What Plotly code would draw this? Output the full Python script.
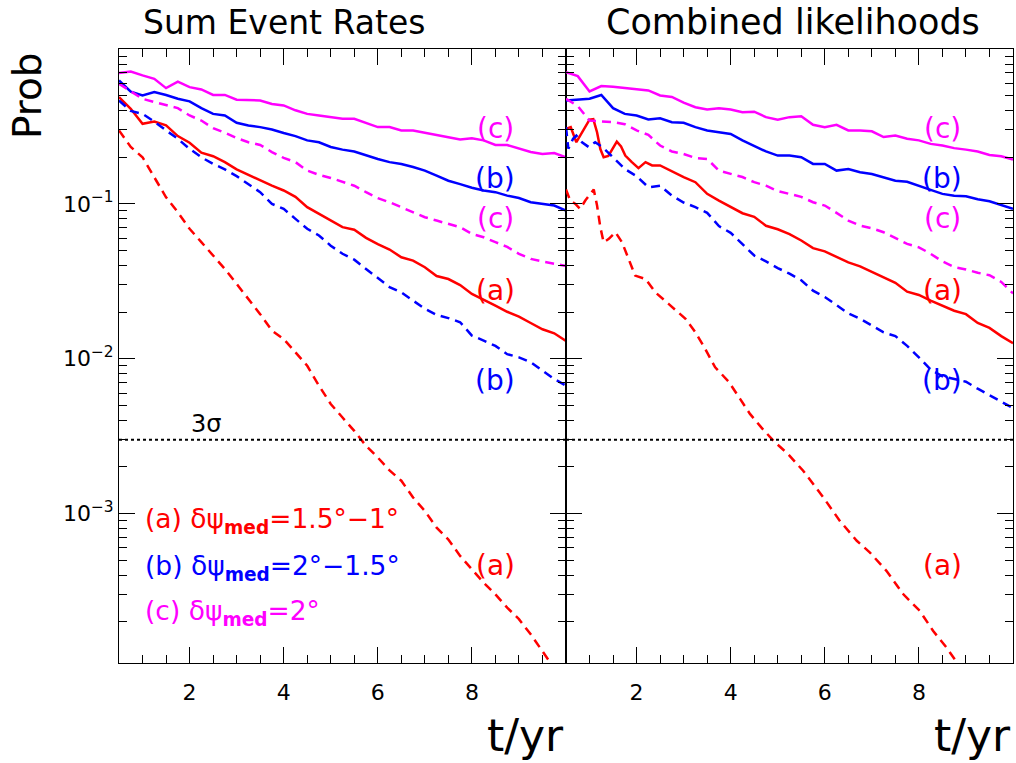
import math
import plotly.graph_objects as go

# ---------------- data ----------------
T = [0.5, 0.75, 1.0, 1.25, 1.5, 1.75, 2.0, 2.25, 2.5, 2.75,
     3.0, 3.25, 3.5, 3.75, 4.0, 4.25, 4.5, 4.75, 5.0, 5.25,
     5.5, 5.75, 6.0, 6.25, 6.5, 6.75, 7.0, 7.25, 7.5, 7.75,
     8.0, 8.25, 8.5, 8.75, 9.0, 9.25, 9.5, 9.75, 10.0]

# Left panel: "Sum Event Rates"
sum_c_solid = [0.70, 0.716, 0.675, 0.642, 0.559, 0.615, 0.567, 0.548, 0.505, 0.505,
               0.47, 0.47, 0.465, 0.441, 0.432, 0.402, 0.381, 0.372, 0.363, 0.354,
               0.354, 0.334, 0.313, 0.313, 0.298, 0.298, 0.287, 0.278, 0.269, 0.26,
               0.265, 0.257, 0.24, 0.24, 0.227, 0.216, 0.21, 0.213, 0.2]
sum_b_solid = [0.626, 0.531, 0.501, 0.527, 0.505, 0.477, 0.459, 0.415, 0.381, 0.372,
               0.334, 0.321, 0.313, 0.302, 0.287, 0.274, 0.257, 0.25, 0.233, 0.224,
               0.218, 0.205, 0.195, 0.186, 0.181, 0.173, 0.164, 0.152, 0.141, 0.134,
               0.127, 0.122, 0.119, 0.113, 0.109, 0.1024, 0.1, 0.0975, 0.0905]
sum_a_solid = [0.489, 0.411, 0.329, 0.34, 0.321, 0.274, 0.248, 0.214, 0.203, 0.186,
               0.167, 0.154, 0.141, 0.131, 0.122, 0.111, 0.0952, 0.086, 0.078, 0.0707,
               0.068, 0.0603, 0.055, 0.0507, 0.0452, 0.043, 0.039, 0.0342, 0.0327, 0.0299,
               0.0262, 0.0241, 0.022, 0.0201, 0.0187, 0.017, 0.0155, 0.0146, 0.013]
sum_c_dash = [0.596, 0.531, 0.477, 0.454, 0.436, 0.415, 0.372, 0.345, 0.308, 0.288,
              0.266, 0.25, 0.24, 0.216, 0.198, 0.186, 0.164, 0.154, 0.147, 0.138,
              0.131, 0.119, 0.109, 0.1024, 0.0952, 0.0883, 0.082, 0.078, 0.0742, 0.0706,
              0.064, 0.0609, 0.0566, 0.0527, 0.0476, 0.0441, 0.0425, 0.0411, 0.0397]
sum_b_dash = [0.465, 0.398, 0.381, 0.34, 0.298, 0.263, 0.2266, 0.2, 0.181, 0.167,
              0.151, 0.134, 0.119, 0.1, 0.0928, 0.08, 0.069, 0.0625, 0.0537, 0.0476,
              0.0436, 0.038, 0.033, 0.029, 0.0268, 0.0237, 0.021, 0.0192, 0.0183, 0.0172,
              0.0141, 0.0131, 0.0121, 0.0107, 0.0102, 0.0095, 0.0084, 0.0074, 0.0067]
sum_a_dash = [0.298, 0.233, 0.2, 0.149, 0.1103, 0.0883, 0.069, 0.0566, 0.0464, 0.038,
              0.0304, 0.0243, 0.0194, 0.0152, 0.0134, 0.011, 0.009, 0.0067, 0.0051, 0.00417,
              0.00342, 0.00274, 0.0023, 0.0019, 0.00163, 0.00127, 0.00104, 0.00081, 0.00068, 0.000533,
              0.000437, 0.000358, 0.000301, 0.000247, 0.000208, 0.000166, 0.000129, 0.0001, 0.00008]

# Right panel: "Combined likelihoods"
comb_c_solid = [0.709, 0.668, 0.532, 0.576, 0.57, 0.559, 0.553, 0.54, 0.501, 0.49,
                0.45, 0.421, 0.407, 0.415, 0.407, 0.391, 0.394, 0.363, 0.35, 0.363,
                0.368, 0.324, 0.313, 0.324, 0.298, 0.298, 0.294, 0.27, 0.276, 0.263,
                0.257, 0.244, 0.238, 0.229, 0.224, 0.218, 0.207, 0.203, 0.193]
comb_b_solid = [0.465, 0.47, 0.477, 0.505, 0.415, 0.381, 0.372, 0.351, 0.357, 0.337,
                0.334, 0.313, 0.298, 0.29, 0.283, 0.257, 0.238, 0.218, 0.205, 0.205,
                0.2, 0.181, 0.181, 0.164, 0.168, 0.16, 0.156, 0.149, 0.141, 0.139,
                0.13, 0.123, 0.116, 0.113, 0.112, 0.107, 0.104, 0.0985, 0.093]
comb_a_solid_t = [0.5, 0.6, 0.72, 0.85, 1.0, 1.08, 1.16, 1.23, 1.3, 1.4,
                  1.5, 1.58, 1.67, 1.76, 1.9, 2.04, 2.19, 2.33, 2.5, 2.75,
                  3.0, 3.25, 3.5, 3.75, 4.0, 4.25, 4.5, 4.75, 5.0, 5.25,
                  5.5, 5.75, 6.0, 6.25, 6.5, 6.75, 7.0, 7.25, 7.5, 7.75,
                  8.0, 8.25, 8.5, 8.75, 9.0, 9.25, 9.5, 9.75, 10.0]
comb_a_solid = [0.305, 0.313, 0.25, 0.29, 0.35, 0.352, 0.29, 0.226, 0.2, 0.204,
                0.232, 0.252, 0.235, 0.205, 0.186, 0.17, 0.186, 0.177, 0.177, 0.162,
                0.149, 0.138, 0.116, 0.105, 0.0955, 0.087, 0.0825, 0.0722, 0.0685, 0.0638,
                0.058, 0.0518, 0.0493, 0.0452, 0.0419, 0.0395, 0.0365, 0.0336, 0.0309, 0.0271,
                0.0258, 0.0237, 0.022, 0.0204, 0.0194, 0.017, 0.0158, 0.014, 0.0126]
comb_c_dash = [0.477, 0.428, 0.345, 0.34, 0.337, 0.327, 0.298, 0.279, 0.238, 0.218,
               0.21, 0.198, 0.195, 0.164, 0.156, 0.149, 0.138, 0.131, 0.121, 0.116,
               0.111, 0.1024, 0.0975, 0.0875, 0.078, 0.0724, 0.0696, 0.0656, 0.06, 0.0551,
               0.0524, 0.0476, 0.0425, 0.0391, 0.0377, 0.0359, 0.0346, 0.0313, 0.0264]
comb_b_dash_t = [0.5, 0.55, 0.65, 0.72, 0.84, 0.98, 1.12, 1.27, 1.5, 1.75,
                 2.0, 2.25, 2.5, 2.75, 3.0, 3.25, 3.5, 3.75, 4.0, 4.25,
                 4.5, 4.75, 5.0, 5.25, 5.5, 5.75, 6.0, 6.25, 6.5, 6.75,
                 7.0, 7.25, 7.5, 7.75, 8.0, 8.25, 8.5, 8.75, 9.0, 9.25,
                 9.5, 9.75, 10.0]
comb_b_dash = [0.313, 0.227, 0.263, 0.276, 0.25, 0.233, 0.25, 0.233, 0.2, 0.168,
               0.151, 0.128, 0.131, 0.113, 0.102, 0.0952, 0.0875, 0.0718, 0.065, 0.0551,
               0.0464, 0.0425, 0.0385, 0.0354, 0.0321, 0.0275, 0.025, 0.0222, 0.0196, 0.0181,
               0.0163, 0.0148, 0.014, 0.0121, 0.0102, 0.0085, 0.0077, 0.0074, 0.0071, 0.0064,
               0.0058, 0.0053, 0.0048]
comb_a_dash_t = [0.5, 0.59, 0.70, 0.80, 0.91, 1.02, 1.09, 1.16, 1.23, 1.30,
                 1.41, 1.55, 1.69, 1.83, 1.97, 2.19, 2.40, 2.68, 2.89, 3.04,
                 3.25, 3.46, 3.67, 3.96, 4.2, 4.41, 4.65, 4.91, 5.22, 5.54,
                 5.97, 6.32, 6.68, 6.96, 7.31, 7.67, 8.02, 8.30, 8.59, 8.84, 9.0]
comb_a_dash = [0.1237, 0.105, 0.1, 0.0928, 0.105, 0.116, 0.1237, 0.0975, 0.0706, 0.0565,
               0.0594, 0.0656, 0.0565, 0.0441, 0.0344, 0.0327, 0.0268, 0.0226, 0.0199, 0.0181,
               0.0148, 0.01155, 0.00879, 0.0071, 0.0055, 0.0044, 0.0036, 0.00295, 0.00242, 0.00189,
               0.00127, 0.000897, 0.000667, 0.00056, 0.000427, 0.000301, 0.000235, 0.000175, 0.000136,
               0.000106, 0.00009]

SIGMA3 = 0.003
X_RANGE = [0.5, 10.0]
Y_LOG_RANGE = [-3.965, 0.0]

PANEL_TITLES = ["Sum Event Rates", "Combined likelihoods"]
Y_TICKS = [1e-3, 1e-2, 1e-1]
Y_TICKTEXT = ["10<sup>\u22123</sup>", "10<sup>\u22122</sup>", "10<sup>\u22121</sup>"]
X_TICKS = [2, 4, 6, 8]

LEGEND_TEXT = ["(a) \u03b4\u03c8<sub><b>med</b></sub>=1.5\u00b0\u22121\u00b0",
               "(b) \u03b4\u03c8<sub><b>med</b></sub>=2\u00b0\u22121.5\u00b0",
               "(c) \u03b4\u03c8<sub><b>med</b></sub>=2\u00b0"]
LEGEND_P = [0.000897, 0.000446, 0.000228]
CURVE_LABELS = ["(c)", "(b)", "(c)", "(a)", "(b)", "(a)"]
CURVE_LABEL_P = [0.307, 0.146, 0.0804, 0.0275, 0.00721, 0.000459]

# ---------------- styling ----------------
RED, BLUE, MAG = "#ff0000", "#0000ff", "#ff00ff"
FONT = "DejaVu Sans"
LW = 2.5
DASH = "9px,6px"
label_colors = [MAG, BLUE, MAG, RED, BLUE, RED]

fig = go.Figure()

def add(x, y, color, dash, xa, ya):
    fig.add_trace(go.Scatter(x=x, y=y, mode="lines", xaxis=xa, yaxis=ya,
                             line=dict(color=color, width=LW, dash=dash),
                             showlegend=False, hoverinfo="skip"))

# left panel
add(T, sum_c_solid, MAG, "solid", "x", "y")
add(T, sum_b_solid, BLUE, "solid", "x", "y")
add(T, sum_a_solid, RED, "solid", "x", "y")
add(T, sum_c_dash, MAG, DASH, "x", "y")
add(T, sum_b_dash, BLUE, DASH, "x", "y")
add(T, sum_a_dash, RED, DASH, "x", "y")
# right panel
add(T, comb_c_solid, MAG, "solid", "x2", "y2")
add(T, comb_b_solid, BLUE, "solid", "x2", "y2")
add(comb_a_solid_t, comb_a_solid, RED, "solid", "x2", "y2")
add(T, comb_c_dash, MAG, DASH, "x2", "y2")
add(comb_b_dash_t, comb_b_dash, BLUE, DASH, "x2", "y2")
add(comb_a_dash_t, comb_a_dash, RED, DASH, "x2", "y2")
# 3 sigma lines
for xa, ya in (("x", "y"), ("x2", "y2")):
    fig.add_trace(go.Scatter(x=X_RANGE, y=[SIGMA3, SIGMA3], mode="lines", xaxis=xa, yaxis=ya,
                             line=dict(color="black", width=2, dash="dot"),
                             showlegend=False, hoverinfo="skip"))

y_minor = [k * 10.0 ** e for e in range(-4, 0) for k in range(2, 10)]
x_minor = [v / 2 for v in range(1, 21)]

xcommon = dict(range=X_RANGE, tickvals=X_TICKS, ticktext=[str(v) for v in X_TICKS],
               ticks="inside", ticklen=16, tickwidth=1, tickcolor="black",
               minor=dict(tickvals=x_minor, ticks="inside", ticklen=8, tickwidth=1, tickcolor="black"),
               showline=True, linecolor="black", linewidth=1, mirror="allticks",
               showgrid=False, zeroline=False, ticklabelstandoff=10,
               tickfont=dict(family=FONT, size=22, color="black"))
ycommon = dict(type="log", range=Y_LOG_RANGE, tickvals=Y_TICKS, ticktext=Y_TICKTEXT,
               ticks="inside", ticklen=16, tickwidth=1, tickcolor="black",
               minor=dict(tickvals=y_minor, ticks="inside", ticklen=8, tickwidth=1, tickcolor="black"),
               showline=True, linecolor="black", linewidth=1, mirror="allticks",
               showgrid=False, zeroline=False, ticklabelstandoff=0,
               tickfont=dict(family=FONT, size=22, color="black"))

fig.update_layout(
    width=1016, height=763,
    margin=dict(l=119, r=3, t=49, b=100),
    paper_bgcolor="white", plot_bgcolor="white",
    showlegend=False,
    xaxis=dict(domain=[0, 0.5], anchor="y", **xcommon),
    yaxis=dict(domain=[0, 1], anchor="x", **ycommon),
    xaxis2=dict(domain=[0.5, 1], anchor="y2", **xcommon),
    yaxis2=dict(domain=[0, 1], anchor="x2", showticklabels=False, **ycommon),
)

ann = []
# panel titles
for xr, title, xc, fs in (("x domain", PANEL_TITLES[0], 0.37, 33), ("x2 domain", PANEL_TITLES[1], 0.508, 35)):
    ann.append(dict(xref=xr, yref="paper", x=xc, y=1.0, yshift=27, xanchor="center", yanchor="middle",
                    text=title, showarrow=False, font=dict(family=FONT, size=fs, color="black")))
# x axis titles
for xr in ("x domain", "x2 domain"):
    ann.append(dict(xref=xr, yref="paper", x=1.0, y=0, yshift=-72, xanchor="right", yanchor="middle",
                    text="t/yr", showarrow=False, font=dict(family=FONT, size=44, color="black")))
# y axis title
ann.append(dict(xref="paper", yref="paper", x=0, xshift=-92, y=1.0, yshift=-47, textangle=-90,
                xanchor="center", yanchor="middle", text="Prob", showarrow=False,
                font=dict(family=FONT, size=39, color="black")))
# curve labels
for xr, yr in (("x", "y"), ("x2", "y2")):
    for lab, p, col in zip(CURVE_LABELS, CURVE_LABEL_P, label_colors):
        ann.append(dict(xref=xr, yref=yr, x=8.5, y=math.log10(p), text=lab, showarrow=False,
                        xanchor="center", yanchor="middle",
                        font=dict(family=FONT, size=28, color=col)))
# legend text
for txt, p, col in zip(LEGEND_TEXT, LEGEND_P, [RED, BLUE, MAG]):
    ann.append(dict(xref="x", yref="y", x=1.0, y=math.log10(p), text=txt, showarrow=False,
                    xanchor="left", yanchor="middle", font=dict(family=FONT, size=26.5, color=col)))
# 3 sigma label
ann.append(dict(xref="x", yref="y", x=2.35, y=math.log10(0.0038), text="3\u03c3", showarrow=False,
                xanchor="center", yanchor="middle", font=dict(family=FONT, size=24, color="black")))

fig.update_layout(annotations=ann)
fig.write_html("out.html", config={"displayModeBar": False},
               post_script="document.body.style.margin='0';")
